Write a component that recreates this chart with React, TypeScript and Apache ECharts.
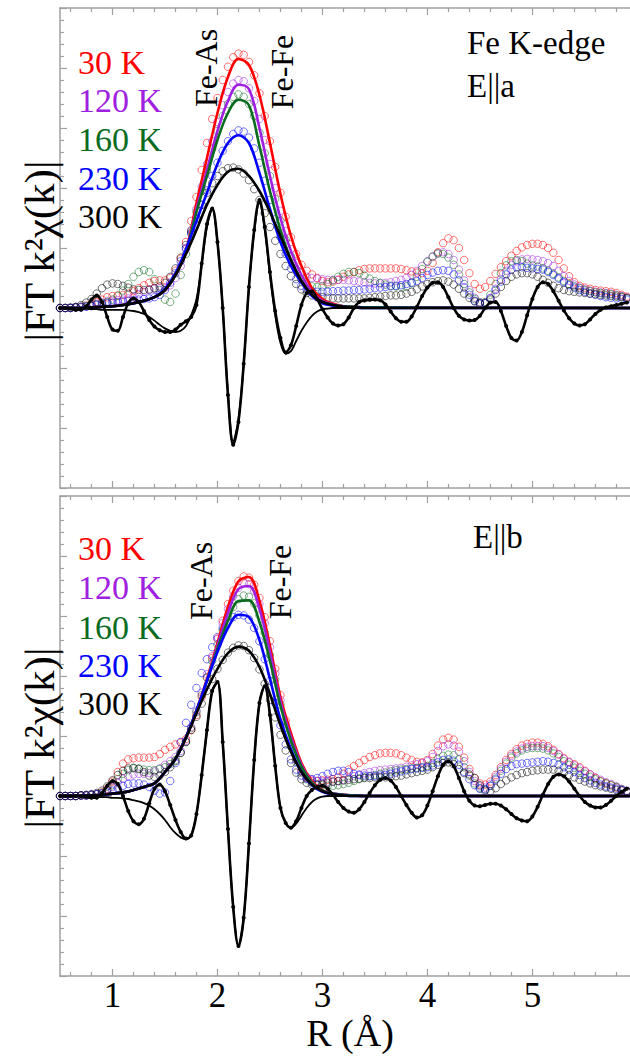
import React, { useEffect, useRef } from "react";
import * as echarts from "echarts";

// ---- sampling grids (R in Å) ----
const steps = (a: number, b: number, s: number) => {
  const out: number[] = [];
  for (let v = a; v <= b + 1e-9; v += s) out.push(Math.round(v * 100) / 100);
  return out;
};
const R_DATA = steps(0.5, 5.9, 0.05);
const R_FIT = [...steps(0.5, 3.4, 0.1), 5.93];
const R_IMFIT = [...steps(0.5, 3.1, 0.05), 5.93];

const TEMPS = ["30 K", "120 K", "160 K", "230 K", "300 K"];
const COLORS = ["#ff0000", "#a020e0", "#0b6b1f", "#0000ff", "#000000"];
const MAJOR_X = [1, 2, 3, 4, 5];
const MINOR_X = [0.6, 0.8, 1.2, 1.4, 1.6, 1.8, 2.2, 2.4, 2.6, 2.8, 3.2, 3.4, 3.6, 3.8, 4.2, 4.4, 4.6, 4.8, 5.2, 5.4, 5.6, 5.8];

// ---------- TOP PANEL (E||a) : |FT| data (circles) ----------
const topData30 = [
  0.00,0.00,0.00,0.01,0.02,0.04,0.07,0.10,0.14,0.18,
  0.20,0.21,0.22,0.24,0.28,0.33,0.38,0.42,0.45,0.46,
  0.46,0.50,0.62,0.82,1.10,1.45,1.85,2.30,2.75,3.15,
  3.50,3.80,4.02,4.18,4.24,4.22,4.10,3.88,3.58,3.20,
  2.78,2.35,1.92,1.52,1.18,0.90,0.72,0.62,0.56,0.50,
  0.45,0.43,0.44,0.47,0.52,0.56,0.60,0.63,0.65,0.66,
  0.66,0.66,0.66,0.66,0.66,0.65,0.63,0.61,0.59,0.58,
  0.62,0.75,0.93,1.08,1.16,1.13,1.00,0.80,0.58,0.40,
  0.32,0.35,0.45,0.57,0.68,0.78,0.87,0.95,1.01,1.05,
  1.07,1.07,1.05,1.00,0.92,0.80,0.66,0.53,0.43,0.37,
  0.34,0.32,0.30,0.29,0.28,0.27,0.25,0.22,0.19];
const topData120 = [
  0.00,0.00,0.00,0.01,0.02,0.03,0.05,0.07,0.09,0.11,
  0.12,0.13,0.14,0.16,0.19,0.23,0.27,0.30,0.32,0.33,
  0.34,0.38,0.50,0.70,0.98,1.30,1.65,2.02,2.40,2.78,
  3.10,3.38,3.60,3.74,3.80,3.78,3.66,3.45,3.15,2.80,
  2.40,2.00,1.62,1.28,0.98,0.75,0.60,0.52,0.50,0.49,
  0.48,0.47,0.47,0.47,0.47,0.46,0.45,0.44,0.43,0.42,
  0.41,0.41,0.42,0.43,0.45,0.47,0.50,0.55,0.62,0.70,
  0.78,0.85,0.91,0.93,0.90,0.80,0.64,0.46,0.30,0.17,
  0.10,0.09,0.17,0.32,0.48,0.62,0.72,0.78,0.81,0.82,
  0.81,0.80,0.78,0.75,0.70,0.62,0.53,0.45,0.39,0.34,
  0.31,0.29,0.27,0.26,0.25,0.24,0.22,0.20,0.17];
const topData160 = [
  0.00,0.00,0.00,0.01,0.02,0.03,0.04,0.06,0.08,0.10,
  0.14,0.20,0.29,0.40,0.52,0.60,0.63,0.60,0.48,0.30,
  0.14,0.10,0.24,0.55,0.90,1.25,1.60,1.95,2.30,2.65,
  2.95,3.20,3.40,3.52,3.56,3.52,3.40,3.20,2.92,2.58,
  2.20,1.82,1.46,1.14,0.86,0.64,0.48,0.40,0.36,0.35,
  0.36,0.40,0.46,0.52,0.57,0.60,0.60,0.58,0.54,0.49,
  0.45,0.42,0.39,0.37,0.36,0.35,0.36,0.42,0.52,0.65,
  0.77,0.86,0.91,0.90,0.84,0.72,0.56,0.40,0.26,0.15,
  0.09,0.10,0.22,0.40,0.58,0.71,0.78,0.80,0.78,0.74,
  0.71,0.69,0.66,0.62,0.57,0.51,0.45,0.40,0.36,0.33,
  0.30,0.28,0.26,0.25,0.24,0.23,0.21,0.19,0.16];
const topData230 = [
  0.00,0.00,0.00,0.01,0.01,0.02,0.03,0.05,0.06,0.08,
  0.09,0.10,0.11,0.12,0.13,0.14,0.15,0.16,0.18,0.22,
  0.30,0.42,0.58,0.78,1.00,1.24,1.48,1.72,1.96,2.20,
  2.42,2.62,2.78,2.90,2.96,2.94,2.84,2.66,2.42,2.12,
  1.80,1.48,1.18,0.90,0.66,0.48,0.37,0.31,0.28,0.27,
  0.27,0.27,0.28,0.28,0.29,0.29,0.30,0.30,0.31,0.32,
  0.33,0.34,0.35,0.36,0.37,0.38,0.40,0.42,0.45,0.50,
  0.55,0.59,0.62,0.63,0.62,0.56,0.46,0.34,0.22,0.12,
  0.07,0.08,0.16,0.30,0.44,0.56,0.64,0.68,0.68,0.67,
  0.66,0.65,0.64,0.60,0.55,0.49,0.43,0.38,0.34,0.30,
  0.27,0.24,0.22,0.20,0.18,0.17,0.16,0.15,0.14];
const topData300 = [
  0.00,0.00,0.01,0.02,0.05,0.09,0.15,0.24,0.33,0.39,
  0.41,0.40,0.37,0.34,0.31,0.30,0.30,0.31,0.33,0.36,
  0.42,0.52,0.66,0.84,1.05,1.28,1.50,1.72,1.92,2.08,
  2.20,2.28,2.33,2.34,2.31,2.24,2.13,1.98,1.80,1.58,
  1.35,1.12,0.90,0.70,0.53,0.40,0.31,0.25,0.21,0.19,
  0.18,0.17,0.16,0.16,0.16,0.16,0.16,0.16,0.16,0.17,
  0.18,0.19,0.20,0.21,0.21,0.22,0.24,0.27,0.31,0.36,
  0.40,0.43,0.45,0.46,0.44,0.39,0.32,0.24,0.17,0.11,
  0.08,0.08,0.14,0.24,0.35,0.45,0.52,0.56,0.58,0.58,
  0.56,0.52,0.47,0.42,0.37,0.33,0.30,0.28,0.27,0.26,
  0.25,0.24,0.23,0.22,0.21,0.20,0.19,0.18,0.17];

// top panel: first-shell fits |FT|
const topFit30 = [0.00,0.00,0.00,0.01,0.02,0.03,0.05,0.08,0.12,0.18, 0.30,0.55,0.95,1.75,2.50,3.25,3.85,4.15,4.05,3.55, 2.75,1.90,1.20,0.70,0.33,0.15,0.07,0.03,0.02,0.01, 0];
const topFit120 = [0.00,0.00,0.00,0.01,0.02,0.03,0.05,0.08,0.12,0.18, 0.30,0.55,0.95,1.65,2.30,2.95,3.45,3.72,3.65,3.00, 2.20,1.50,0.95,0.55,0.27,0.12,0.06,0.03,0.02,0.01, 0];
const topFit160 = [0.00,0.00,0.00,0.01,0.02,0.03,0.05,0.08,0.12,0.18, 0.30,0.55,0.95,1.60,2.20,2.80,3.25,3.47,3.38,2.70, 1.95,1.30,0.80,0.45,0.22,0.10,0.05,0.03,0.02,0.01, 0];
const topFit230 = [0.00,0.00,0.00,0.01,0.02,0.03,0.05,0.08,0.12,0.18, 0.32,0.58,0.98,1.45,1.92,2.40,2.75,2.88,2.75,2.25, 1.65,1.10,0.70,0.42,0.20,0.08,0.04,0.02,0.01,0.00, 0];
const topFit300 = [0.00,0.00,0.00,0.01,0.02,0.03,0.05,0.08,0.12,0.18, 0.30,0.55,0.90,1.30,1.72,2.05,2.27,2.32,2.20,1.95, 1.60,1.20,0.80,0.45,0.22,0.10,0.05,0.02,0.01,0.00, 0];

// top panel: imaginary part, 300 K data (dotted) and fit
const topImData = [
  0.00,0.00,-0.01,-0.03,-0.03,0.03,0.14,0.21,0.10,-0.15,
  -0.36,-0.38,-0.15,0.08,0.16,0.10,-0.05,-0.20,-0.31,-0.37,
  -0.40,-0.40,-0.36,-0.28,-0.22,-0.15,0.05,0.74,1.40,1.66,
  1.10,0.00,-1.45,-2.28,-1.90,-0.93,0.35,1.30,1.80,1.35,
  0.60,-0.05,-0.50,-0.74,-0.62,-0.30,0.05,0.25,0.28,0.15,
  -0.02,-0.16,-0.26,-0.29,-0.27,-0.16,0.00,0.10,0.13,0.14,
  0.14,0.13,0.06,-0.06,-0.17,-0.23,-0.23,-0.14,0.02,0.20,
  0.34,0.42,0.43,0.35,0.18,0.00,-0.13,-0.19,-0.21,-0.20,
  -0.13,0.00,0.09,0.10,-0.05,-0.30,-0.50,-0.54,-0.40,-0.12,
  0.15,0.35,0.43,0.40,0.28,0.12,-0.04,-0.17,-0.26,-0.29,
  -0.27,-0.19,-0.10,-0.03,0.01,0.03,0.05,0.07,0.09];
const topImFit = [
  0,0,0,0,0,-0.01,-0.02,-0.02,-0.03,-0.03,
  -0.03,-0.03,-0.03,-0.04,-0.05,-0.07,-0.10,-0.15,-0.21,-0.28,
  -0.34,-0.38,-0.40,-0.38,-0.30,-0.12,0.15,0.72,1.35,1.64,
  1.10,0.00,-1.40,-2.22,-1.85,-0.93,0.35,1.28,1.75,1.32,
  0.55,-0.12,-0.58,-0.76,-0.72,-0.55,-0.38,-0.24,-0.13,-0.06,
  -0.02,-0.01,0.00, 0];

// ---------- BOTTOM PANEL (E||b) ----------
const botData30 = [
  0.00,0.00,0.00,0.00,0.01,0.01,0.02,0.03,0.06,0.12,
  0.24,0.40,0.54,0.61,0.63,0.64,0.64,0.64,0.65,0.70,
  0.77,0.82,0.86,0.89,0.95,1.10,1.35,1.65,1.98,2.30,
  2.62,2.92,3.20,3.42,3.58,3.66,3.64,3.52,3.30,2.98,
  2.58,2.12,1.68,1.26,0.90,0.62,0.42,0.30,0.25,0.25,
  0.26,0.27,0.28,0.31,0.37,0.44,0.50,0.55,0.60,0.65,
  0.68,0.71,0.72,0.72,0.71,0.68,0.64,0.60,0.57,0.56,
  0.60,0.70,0.84,0.94,0.97,0.94,0.82,0.64,0.45,0.30,
  0.21,0.19,0.24,0.35,0.48,0.60,0.70,0.78,0.84,0.87,
  0.89,0.89,0.87,0.83,0.77,0.70,0.63,0.57,0.53,0.48,
  0.42,0.36,0.30,0.25,0.21,0.18,0.14,0.10,0.07];
const botData120 = [
  0.00,0.00,0.00,0.00,0.01,0.01,0.02,0.03,0.05,0.09,
  0.15,0.22,0.29,0.33,0.36,0.37,0.37,0.38,0.41,0.46,
  0.52,0.58,0.65,0.75,0.92,1.15,1.42,1.72,2.03,2.33,
  2.62,2.88,3.12,3.33,3.47,3.55,3.53,3.42,3.20,2.88,
  2.48,2.04,1.60,1.20,0.86,0.60,0.42,0.32,0.27,0.25,
  0.24,0.24,0.24,0.25,0.27,0.30,0.33,0.36,0.38,0.40,
  0.42,0.43,0.44,0.45,0.46,0.47,0.49,0.51,0.53,0.55,
  0.58,0.65,0.75,0.83,0.86,0.84,0.74,0.58,0.40,0.25,
  0.16,0.14,0.20,0.32,0.45,0.57,0.67,0.74,0.79,0.82,
  0.83,0.83,0.83,0.80,0.75,0.69,0.62,0.56,0.51,0.46,
  0.41,0.36,0.31,0.27,0.23,0.20,0.16,0.12,0.09];
const botData160 = [
  0.00,0.00,0.00,0.00,0.01,0.01,0.02,0.03,0.05,0.10,
  0.18,0.28,0.37,0.43,0.46,0.46,0.44,0.43,0.43,0.45,
  0.48,0.53,0.60,0.72,0.90,1.13,1.40,1.68,1.97,2.25,
  2.52,2.76,2.98,3.15,3.28,3.34,3.32,3.21,3.01,2.72,
  2.35,1.94,1.52,1.14,0.82,0.57,0.39,0.28,0.22,0.19,
  0.18,0.17,0.17,0.18,0.20,0.22,0.25,0.28,0.31,0.33,
  0.35,0.37,0.39,0.41,0.43,0.44,0.45,0.46,0.47,0.48,
  0.50,0.55,0.62,0.67,0.69,0.68,0.61,0.48,0.34,0.21,
  0.13,0.11,0.17,0.29,0.42,0.54,0.64,0.71,0.76,0.79,
  0.80,0.80,0.79,0.76,0.71,0.65,0.58,0.52,0.47,0.42,
  0.37,0.32,0.28,0.24,0.21,0.18,0.15,0.11,0.08];
const botData230 = [
  0.00,0.00,0.00,0.00,0.01,0.01,0.02,0.03,0.04,0.06,
  0.09,0.13,0.17,0.20,0.21,0.21,0.19,0.15,0.09,0.04,
  0.06,0.25,0.55,0.90,1.22,1.52,1.80,2.05,2.28,2.48,
  2.65,2.80,2.91,2.98,3.02,3.01,2.94,2.80,2.58,2.28,
  1.92,1.55,1.18,0.86,0.61,0.44,0.34,0.29,0.28,0.30,
  0.33,0.37,0.40,0.42,0.42,0.40,0.37,0.35,0.34,0.33,
  0.33,0.34,0.35,0.37,0.39,0.41,0.43,0.45,0.46,0.47,
  0.48,0.51,0.56,0.60,0.61,0.59,0.52,0.40,0.28,0.18,
  0.12,0.11,0.17,0.27,0.37,0.45,0.50,0.53,0.54,0.55,
  0.56,0.57,0.58,0.57,0.55,0.52,0.48,0.44,0.40,0.35,
  0.30,0.26,0.22,0.19,0.16,0.14,0.12,0.10,0.08];
const botData300 = [
  0.00,0.00,0.00,0.00,0.01,0.02,0.03,0.05,0.09,0.16,
  0.26,0.35,0.42,0.46,0.47,0.45,0.40,0.34,0.32,0.34,
  0.40,0.48,0.58,0.72,0.90,1.10,1.32,1.54,1.75,1.95,
  2.12,2.27,2.39,2.47,2.51,2.50,2.43,2.30,2.11,1.87,
  1.60,1.31,1.02,0.76,0.55,0.39,0.28,0.22,0.19,0.19,
  0.20,0.22,0.24,0.25,0.26,0.27,0.28,0.29,0.30,0.30,
  0.31,0.31,0.31,0.32,0.33,0.34,0.36,0.38,0.40,0.42,
  0.44,0.48,0.52,0.55,0.56,0.53,0.45,0.38,0.36,0.30,
  0.18,0.09,0.08,0.13,0.20,0.26,0.31,0.35,0.38,0.40,
  0.42,0.43,0.44,0.44,0.44,0.42,0.39,0.35,0.31,0.27,
  0.24,0.21,0.18,0.16,0.14,0.12,0.10,0.09,0.08];

const botFit30 = [0.00,0.00,0.00,0.01,0.02,0.04,0.06,0.10,0.15,0.21, 0.40,0.62,0.98,1.42,1.95,2.55,3.15,3.58,3.65,3.25, 2.50,1.65,1.05,0.55,0.25,0.10,0.04,0.02,0.01,0.00, 0];
const botFit120 = [0.00,0.00,0.00,0.01,0.02,0.04,0.06,0.10,0.15,0.21, 0.40,0.62,0.98,1.42,1.93,2.50,3.05,3.45,3.50,3.12, 2.40,1.58,0.98,0.52,0.23,0.09,0.04,0.02,0.01,0.00, 0];
const botFit160 = [0.00,0.00,0.00,0.01,0.02,0.04,0.06,0.10,0.15,0.21, 0.40,0.62,0.98,1.42,1.92,2.45,2.92,3.25,3.26,2.90, 2.25,1.50,0.92,0.49,0.22,0.09,0.04,0.02,0.01,0.00, 0];
const botFit230 = [0.00,0.00,0.00,0.01,0.02,0.04,0.06,0.10,0.15,0.21, 0.40,0.62,0.98,1.42,1.92,2.40,2.80,3.02,2.98,2.60, 1.95,1.28,0.78,0.40,0.18,0.07,0.03,0.01,0.00,0.00, 0];
const botFit300 = [0.00,0.00,0.00,0.01,0.02,0.04,0.06,0.10,0.15,0.21, 0.40,0.62,0.97,1.38,1.78,2.12,2.38,2.49,2.42,2.15, 1.70,1.18,0.74,0.40,0.19,0.08,0.03,0.01,0.00,0.00, 0];

const botImData = [
  0.00,0.00,0.00,0.00,0.00,-0.01,-0.03,-0.03,0.05,0.17,
  0.25,0.20,0.00,-0.25,-0.42,-0.47,-0.38,-0.12,0.12,0.19,
  0.08,-0.15,-0.40,-0.60,-0.71,-0.66,-0.30,0.35,1.10,1.75,
  1.90,0.90,-0.55,-1.85,-2.50,-2.03,-0.79,0.60,1.55,1.83,
  1.35,0.50,-0.20,-0.45,-0.53,-0.42,-0.20,0.00,0.10,0.15,
  0.17,0.12,0.02,-0.10,-0.20,-0.26,-0.28,-0.22,-0.10,0.05,
  0.18,0.27,0.30,0.26,0.15,0.00,-0.15,-0.28,-0.36,-0.32,
  -0.16,0.08,0.33,0.52,0.58,0.50,0.30,0.08,-0.08,-0.16,
  -0.17,-0.15,-0.13,-0.13,-0.16,-0.22,-0.30,-0.37,-0.41,-0.42,
  -0.34,-0.18,0.02,0.20,0.32,0.36,0.33,0.24,0.12,0.00,
  -0.10,-0.16,-0.19,-0.19,-0.15,-0.08,0.00,0.07,0.12];
const botImFit = [
  0,0,0,0,0,0,-0.01,-0.01,-0.02,-0.02,
  -0.03,-0.03,-0.04,-0.05,-0.07,-0.09,-0.12,-0.16,-0.22,-0.30,
  -0.40,-0.52,-0.62,-0.69,-0.72,-0.65,-0.30,0.35,1.10,1.75,
  1.90,0.90,-0.55,-1.85,-2.50,-2.03,-0.79,0.60,1.55,1.83,
  1.35,0.50,-0.20,-0.45,-0.53,-0.46,-0.33,-0.20,-0.10,-0.04,
  -0.01,0.00,0.00, 0];

const PANELS = [
  { data: [topData30, topData120, topData160, topData230, topData300], fits: [topFit30, topFit120, topFit160, topFit230, topFit300], im: topImData, imFit: topImFit },
  { data: [botData30, botData120, botData160, botData230, botData300], fits: [botFit30, botFit120, botFit160, botFit230, botFit300], im: botImData, imFit: botImFit },
];

const pair = (xs: number[], ys: number[]) => ys.map((y, i) => [xs[i], y]);

const FONT = "'Liberation Serif', 'Times New Roman', serif";
const AXIS_GRAY = "#a0a0a0";

export default function App() {
  const ref = useRef<HTMLDivElement>(null);
  useEffect(() => {
    if (!ref.current) return;
    const chart = echarts.init(ref.current, undefined, { renderer: "svg" });

    const grids = [
      { left: 60, top: 8, width: 570, height: 480 },
      { left: 60, top: 496, width: 570, height: 480 },
    ];
    const xAxes: any[] = [];
    const yAxes: any[] = [];
    grids.forEach((_, g) => {
      const base = { gridIndex: g, type: "value", min: 0.5, max: 5.93, splitLine: { show: false } };
      xAxes.push({
        ...base, position: "bottom",
        axisLine: { show: true, onZero: false, lineStyle: { color: AXIS_GRAY, width: 1.5 } },
        axisTick: { show: true, inside: true, length: 7, customValues: MAJOR_X, lineStyle: { color: AXIS_GRAY, width: 1.2 } },
        axisLabel: { show: g === 1, customValues: MAJOR_X, fontSize: 35, fontFamily: FONT, color: "#000", margin: 2 },
      });
      xAxes.push({
        ...base, position: "bottom",
        axisLine: { show: false, onZero: false },
        axisTick: { show: true, inside: true, length: 4, customValues: MINOR_X, lineStyle: { color: AXIS_GRAY, width: 1.2 } },
        axisLabel: { show: false },
      });
      xAxes.push({
        ...base, position: "top",
        axisLine: { show: true, onZero: false, lineStyle: { color: AXIS_GRAY, width: 1.5 } },
        axisTick: { show: true, inside: true, length: 7, customValues: MAJOR_X, lineStyle: { color: AXIS_GRAY, width: 1.2 } },
        axisLabel: { show: false },
      });
      xAxes.push({
        ...base, position: "top",
        axisLine: { show: false, onZero: false },
        axisTick: { show: true, inside: true, length: 4, customValues: MINOR_X, lineStyle: { color: AXIS_GRAY, width: 1.2 } },
        axisLabel: { show: false },
      });
      yAxes.push({
        gridIndex: g, type: "value", min: -3, max: 5, interval: 1, position: "left",
        axisLine: { show: true, onZero: false, lineStyle: { color: AXIS_GRAY, width: 1.5 } },
        axisTick: { show: true, inside: true, length: 7, lineStyle: { color: AXIS_GRAY, width: 1.2 } },
        minorTick: { show: true, splitNumber: 5, length: 4, lineStyle: { color: AXIS_GRAY, width: 1.2 } },
        axisLabel: { show: false },
        splitLine: { show: false },
      });
    });

    const series: any[] = [];
    PANELS.forEach((p, g) => {
      const xi = g * 4;
      p.data.forEach((d, i) => {
        series.push({
          type: "scatter", xAxisIndex: xi, yAxisIndex: g, data: pair(R_DATA, d),
          symbol: "circle", symbolSize: 7.5, z: 1,
          itemStyle: { color: "rgba(255,255,255,0)", borderColor: COLORS[i], borderWidth: 1, opacity: 0.55 },
          silent: true,
        });
      });
      p.fits.forEach((f, i) => {
        series.push({
          type: "line", xAxisIndex: xi, yAxisIndex: g, data: pair(R_FIT, f),
          smooth: 0.35, showSymbol: false, z: 3,
          lineStyle: { color: COLORS[i], width: 2.6 },
        });
      });
      series.push({
        type: "line", xAxisIndex: xi, yAxisIndex: g, data: pair(R_IMFIT, p.imFit),
        smooth: 0.35, showSymbol: false, z: 4,
        lineStyle: { color: "#000", width: 1.8 },
      });
      series.push({
        type: "line", xAxisIndex: xi, yAxisIndex: g, data: pair(R_DATA, p.im),
        smooth: 0.35, showSymbol: true, symbol: "circle", symbolSize: 4, z: 5,
        itemStyle: { color: "#000" },
        lineStyle: { color: "#000", width: 2.6 },
      });
    });

    const txt = (text: string, x: number, y: number, size: number, color = "#000", align = "left") => ({
      type: "text", x, y, z: 100,
      style: { text, fill: color, font: `${size}px ${FONT}`, fontSize: size, fontFamily: FONT, textAlign: align, textVerticalAlign: "middle" },
    });
    const rot = (text: string, x: number, y: number, size: number) => ({
      type: "text", x, y, rotation: Math.PI / 2, z: 100,
      style: { text, fill: "#000", font: `${size}px ${FONT}`, fontSize: size, fontFamily: FONT, textAlign: "center", textVerticalAlign: "middle" },
    });

    const legendTop = [62, 100, 139, 178, 216];
    const legendBot = [548, 587, 627, 665, 703];
    const graphic: any[] = [];
    TEMPS.forEach((t, i) => {
      graphic.push(txt(t, 78, legendTop[i], 34, COLORS[i]));
      graphic.push(txt(t, 78, legendBot[i], 34, COLORS[i]));
    });
    graphic.push(rot("|FT k²χ(k)|", 39, 251, 43));
    graphic.push(rot("|FT k²χ(k)|", 39, 738, 43));
    graphic.push(rot("Fe-As", 206, 68, 32));
    graphic.push(rot("Fe-Fe", 282, 72, 32));
    graphic.push(rot("Fe-As", 201, 581, 32));
    graphic.push(rot("Fe-Fe", 280, 582, 32));
    graphic.push(txt("Fe K-edge", 467, 43, 33));
    graphic.push(txt("E||a", 467, 86, 33));
    graphic.push(txt("E||b", 473, 537, 33));
    graphic.push(txt("R (Å)", 350, 1033, 38, "#000", "center"));

    chart.setOption({
      animation: false,
      backgroundColor: "#fff",
      grid: grids,
      xAxis: xAxes,
      yAxis: yAxes,
      series,
      graphic,
    });
    return () => chart.dispose();
  }, []);
  return <div ref={ref} style={{ position: "absolute", left: 0, top: 0, width: 630, height: 1056 }} />;
}
